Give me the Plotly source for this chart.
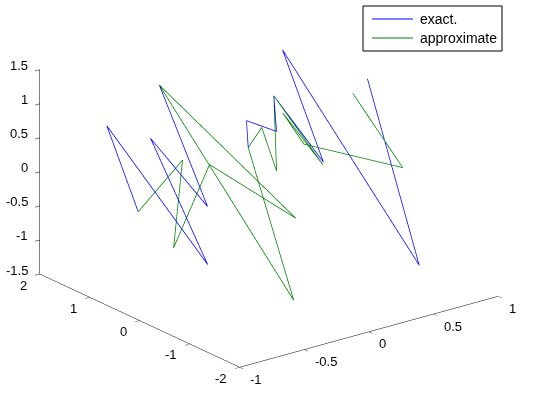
import plotly.graph_objects as go

# "exact." series (blue)
exact_x = [-0.71, -0.64, -0.51, -0.46, -0.36, -0.28, -0.18, -0.01, 0.05, 0.17, 0.25, 0.32, 0.41, 0.52, 0.75]
exact_y = [0.78, 1.59, -0.09, 1.18, 0.30, 1.47, -0.96, 0.39, 0.58, 0.29, 0.55, -0.26, 0.79, -1.66, -0.03]
exact_z = [-0.32, 0.63, -0.90, 0.49, -0.26, 1.08, -1.30, 0.39, 0.69, 0.57, 0.96, 0.23, 1.47, -0.91, 1.15]

# "approximate" series (green)
approx_x = [-0.71, -0.36, -0.63, -0.24, 0.04, -0.28, -0.18, -0.01, 0.11, 0.07, 0.25, 0.31, 0.25, 0.27, 0.69, 0.64]
approx_y = [0.78, 0.80, 0.28, 0.57, -0.43, 1.47, -0.96, 0.39, 0.43, 0.03, 0.55, -0.28, 0.37, 0.00, -0.89, -0.02]
approx_z = [-0.32, 0.25, -0.72, 0.20, -0.39, 1.08, -1.30, 0.39, 0.61, 0.13, 0.96, 0.20, 0.77, 0.43, 0.17, 0.99]

series_names = ["exact.", "approximate"]
series_colors = ["#0000ff", "#008000"]

x_range = [-1, 1]
y_range = [-2, 2]
z_range = [-1.5, 1.5]
x_ticks = [-1, -0.5, 0, 0.5, 1]
y_ticks = [-2, -1, 0, 1, 2]
z_ticks = [-1.5, -1, -0.5, 0, 0.5, 1, 1.5]


def label(v):
    return ("%g" % v)


FONT = "Arial, Liberation Sans, sans-serif"
W, H = 533, 395
TICKFONT = dict(family=FONT, size=13, color="black")

fig = go.Figure()
fig.add_trace(go.Scatter3d(x=exact_x, y=exact_y, z=exact_z, mode="lines",
                           name=series_names[0], showlegend=False,
                           line=dict(color=series_colors[0], width=1.5)))
fig.add_trace(go.Scatter3d(x=approx_x, y=approx_y, z=approx_z, mode="lines",
                           name=series_names[1], showlegend=False,
                           line=dict(color=series_colors[1], width=1.5)))


def axis(rng, ticks):
    return dict(range=rng, tickvals=ticks, showticklabels=False,
                showgrid=False, zeroline=False, showbackground=False,
                showline=True, linecolor="black", linewidth=1,
                ticks="inside", ticklen=6, tickcolor="black",
                title=dict(text=""), showspikes=False, autorange=False)


# MATLAB-style tick labels placed next to the axis lines
scene_ann = []
for t in x_ticks:   # x axis runs along y=min, z=min
    scene_ann.append(dict(x=t, y=y_range[0], z=z_range[0], text=label(t),
                          showarrow=False, xanchor="left", yanchor="middle",
                          xshift=8.5, yshift=-12, font=TICKFONT))
for t in y_ticks:   # y axis runs along x=min, z=min
    scene_ann.append(dict(x=x_range[0], y=t, z=z_range[0], text=label(t),
                          showarrow=False, xanchor="right", yanchor="middle",
                          xshift=-10.5, yshift=-11, font=TICKFONT))
for t in z_ticks:   # z axis runs along x=min, y=max
    scene_ann.append(dict(x=x_range[0], y=y_range[1], z=t, text=label(t),
                          showarrow=False, xanchor="right", yanchor="middle",
                          xshift=-9.5, yshift=4, font=TICKFONT))


# legend box drawn in pixel space (MATLAB-style legend)
def px(x):
    return x / W


def py(y):
    return 1 - y / H


shapes = [dict(type="rect", xref="paper", yref="paper",
               x0=px(363), x1=px(502), y0=py(51), y1=py(6),
               line=dict(color="black", width=1), fillcolor="white", layer="above")]
annotations = []
for i, (nm, col) in enumerate(zip(series_names, series_colors)):
    yy = 19 + 19 * i
    shapes.append(dict(type="line", xref="paper", yref="paper",
                       x0=px(372), x1=px(413), y0=py(yy), y1=py(yy),
                       line=dict(color=col, width=1)))
    annotations.append(dict(text=nm, xref="paper", yref="paper",
                            x=px(418), y=py(yy), xanchor="left", yanchor="middle",
                            showarrow=False,
                            font=dict(family=FONT, size=14, color="black")))

fig.update_layout(
    width=W, height=H,
    margin=dict(l=0, r=0, t=0, b=0),
    paper_bgcolor="white",
    showlegend=False,
    shapes=shapes,
    annotations=annotations,
    scene=dict(
        domain=dict(x=[0, 1], y=[0, 1]),
        aspectmode="manual",
        aspectratio=dict(x=1.650, y=1.663, z=1.108),
        camera=dict(eye=dict(x=-0.7981, y=-1.0191, z=0.4173),
                    up=dict(x=0, y=0, z=1),
                    center=dict(x=-0.0261, y=-0.0131, z=-0.0687),
                    projection=dict(type="orthographic")),
        xaxis=axis(x_range, x_ticks),
        yaxis=axis(y_range, y_ticks),
        zaxis=axis(z_range, z_ticks),
        annotations=scene_ann,
        bgcolor="white",
    ),
)

fig.write_html("out.html", config={"displayModeBar": False},
               post_script="document.body.style.margin='0';")
